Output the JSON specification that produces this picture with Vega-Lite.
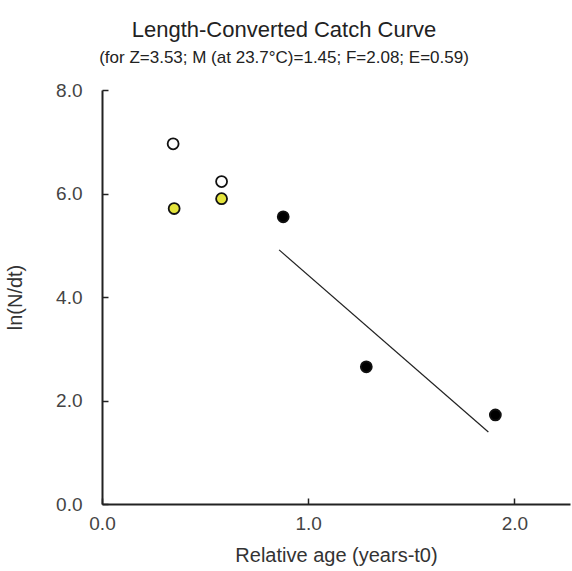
{
  "$schema": "https://vega.github.io/schema/vega-lite/v6.json",
  "autosize": "none",
  "padding": {"left": 102, "top": 90, "right": 2, "bottom": 67},
  "width": 468,
  "height": 414,
  "background": "white",
  "title": {
    "text": "Length-Converted Catch Curve",
    "subtitle": "(for Z=3.53; M (at 23.7°C)=1.45; F=2.08; E=0.59)",
    "font": "Liberation Sans",
    "subtitleFont": "Liberation Sans",
    "fontSize": 22,
    "fontWeight": "normal",
    "subtitleFontSize": 17,
    "color": "#222222",
    "subtitleColor": "#222222",
    "anchor": "middle",
    "dx": -52,
    "offset": 14,
    "subtitlePadding": 8
  },
  "config": {
    "view": {"stroke": null},
    "axis": {
      "grid": false,
      "domainColor": "#222222",
      "domainWidth": 2,
      "tickColor": "#222222",
      "tickWidth": 1.5,
      "tickSize": -6,
      "labelFont": "Liberation Sans",
      "labelFontSize": 19,
      "labelColor": "#444444",
      "labelFlush": false,
      "titleFont": "Liberation Sans",
      "titleFontSize": 20,
      "titleFontWeight": "normal",
      "titleColor": "#333333"
    }
  },
  "datasets": {
    "points": [
      {"age": 0.345, "lnN": 6.96, "type": "unused"},
      {"age": 0.58, "lnN": 6.23, "type": "unused"},
      {"age": 0.35, "lnN": 5.71, "type": "excluded"},
      {"age": 0.58, "lnN": 5.9, "type": "excluded"},
      {"age": 0.879, "lnN": 5.55, "type": "used"},
      {"age": 1.282, "lnN": 2.65, "type": "used"},
      {"age": 1.908, "lnN": 1.72, "type": "used"}
    ],
    "fit": [
      {"age": 0.859, "lnN": 4.91},
      {"age": 1.874, "lnN": 1.39}
    ]
  },
  "layer": [
    {
      "data": {"name": "fit"},
      "mark": {"type": "line", "color": "#222222", "strokeWidth": 1.2},
      "encoding": {
        "x": {"field": "age", "type": "quantitative"},
        "y": {"field": "lnN", "type": "quantitative"}
      }
    },
    {
      "data": {"name": "points"},
      "mark": {"type": "point", "shape": "circle", "filled": false, "size": 120, "stroke": "#111111", "strokeWidth": 1.8, "opacity": 1},
      "encoding": {
        "x": {
          "field": "age", "type": "quantitative",
          "scale": {"domain": [0, 2.27], "nice": false},
          "axis": {"values": [0, 1, 2], "format": ".1f", "title": "Relative age (years-t0)", "labelPadding": 16, "titlePadding": 12}
        },
        "y": {
          "field": "lnN", "type": "quantitative",
          "scale": {"domain": [0, 8], "nice": false},
          "axis": {"values": [0, 2, 4, 6, 8], "format": ".1f", "title": "ln(N/dt)", "labelPadding": 26, "titlePadding": 30}
        },
        "fill": {
          "field": "type", "type": "nominal",
          "scale": {"domain": ["unused", "excluded", "used"], "range": ["#ffffff", "#e4e43c", "#000000"]},
          "legend": null
        }
      }
    }
  ]
}
